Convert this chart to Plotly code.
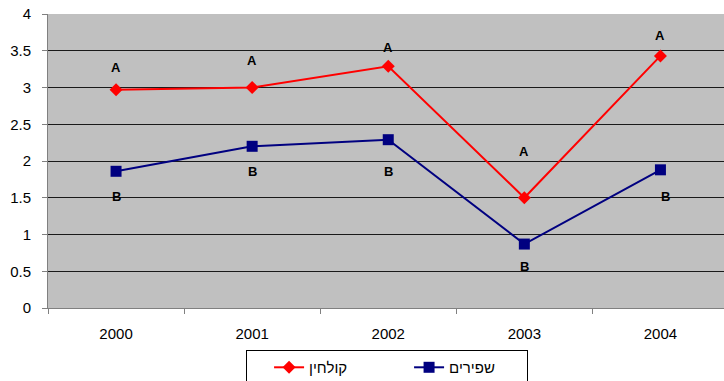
import plotly.graph_objects as go

years = ["2000", "2001", "2002", "2003", "2004"]
kolchin = [2.97, 3.00, 3.29, 1.50, 3.43]      # קולחין
shfirim = [1.86, 2.20, 2.29, 0.87, 1.88]      # שפירים
kolchin_letters = ["A", "A", "A", "A", "A"]
shfirim_letters = ["B", "B", "B", "B", "B"]
y_ticks = [0, 0.5, 1, 1.5, 2, 2.5, 3, 3.5, 4]

# pixel offsets of the significance letters from their markers
a_shift = [22, 27, 19, 46, 20]
b_shift = [-25, -25, -32, -22, -27]
b_xshift = [0, 0, 0, 0, 5]

FONT = "Liberation Sans, Arial, sans-serif"

fig = go.Figure()
fig.add_trace(go.Scatter(
    x=years, y=kolchin, name="קולחין", mode="lines+markers",
    line=dict(color="#FF0000", width=2),
    marker=dict(symbol="diamond", size=10, color="#FF0000"),
))
fig.add_trace(go.Scatter(
    x=years, y=shfirim, name="שפירים", mode="lines+markers",
    line=dict(color="#000080", width=2),
    marker=dict(symbol="square", size=11, color="#000080"),
))

annotations = []
for i in range(len(years)):
    annotations.append(dict(
        x=i, y=kolchin[i], xref="x", yref="y",
        text="<b>%s</b>" % kolchin_letters[i],
        showarrow=False, yshift=a_shift[i],
        font=dict(family=FONT, size=13, color="#000000"),
    ))
    annotations.append(dict(
        x=i, y=shfirim[i], xref="x", yref="y",
        text="<b>%s</b>" % shfirim_letters[i],
        showarrow=False, yshift=b_shift[i], xshift=b_xshift[i],
        font=dict(family=FONT, size=13, color="#000000"),
    ))

fig.update_layout(
    width=724, height=381,
    margin=dict(l=48, r=0, t=14, b=73, autoexpand=False),
    paper_bgcolor="#FFFFFF",
    plot_bgcolor="#C0C0C0",
    font=dict(family=FONT, size=15, color="#000000"),
    showlegend=True,
    legend=dict(
        orientation="h", x=0.293, xanchor="left", y=-0.143, yanchor="top",
        bordercolor="#000000", borderwidth=1, bgcolor="#FFFFFF",
        font=dict(family=FONT, size=15),
        entrywidth=73, entrywidthmode="pixels", indentation=22,
    ),
    annotations=annotations,
    xaxis=dict(
        type="category", range=[-0.5, 4.467],
        tickson="boundaries", ticks="outside", ticklen=5, tickcolor="#808080",
        showgrid=False, showline=True, linecolor="#808080", linewidth=1,
        ticklabelstandoff=12, zeroline=False,
        tickfont=dict(family=FONT, size=15),
    ),
    yaxis=dict(
        range=[0, 4], tickvals=y_ticks, ticktext=[f"{v:g}" for v in y_ticks],
        ticks="outside", ticklen=5, tickcolor="#808080",
        showgrid=True, gridcolor="#1a1a1a", gridwidth=1,
        showline=True, linecolor="#808080", linewidth=1,
        zeroline=False, ticklabelstandoff=8,
        tickfont=dict(family=FONT, size=15),
    ),
)

fig.write_html("out.html")
